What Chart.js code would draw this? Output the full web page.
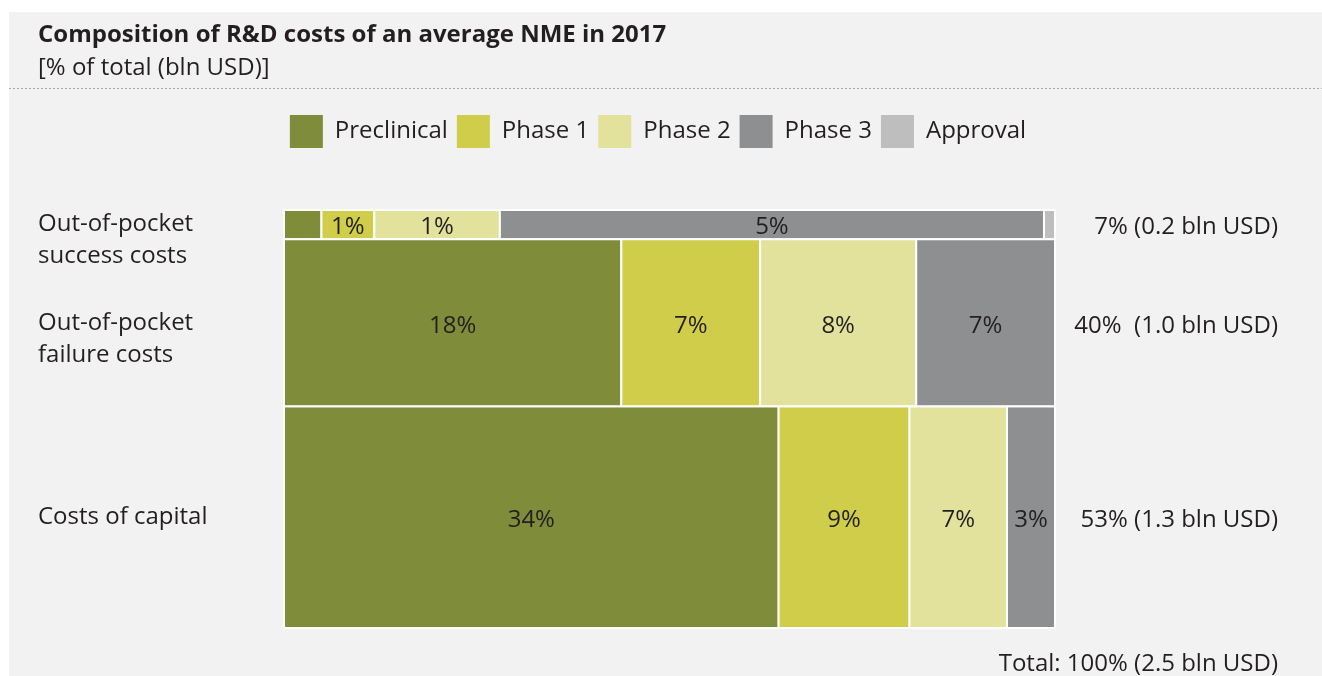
<!DOCTYPE html>
<html>
<head>
<meta charset="utf-8">
<title>Composition of R&amp;D costs</title>
<script src="https://cdn.jsdelivr.net/npm/chart.js@4.4.0/dist/chart.umd.min.js"></script>
<style>
  html, body { margin: 0; padding: 0; background: #fff; }
</style>
</head>
<body>
<canvas id="chart" width="1322" height="676"></canvas>
<script>
var FONT = "'Open Sans', 'Noto Sans', sans-serif";
var TEXT = '#231f20';

var rowNames = [['Out-of-pocket', 'success costs'], ['Out-of-pocket', 'failure costs'], 'Costs of capital'];
var rowTotalLabels = ['7% (0.2 bln USD)', '40%  (1.0 bln USD)', '53% (1.3 bln USD)'];
var totalLabel = 'Total: 100% (2.5 bln USD)';

var phases = ['Preclinical', 'Phase 1', 'Phase 2', 'Phase 3', 'Approval'];
var phaseColors = ['#7f8c3a', '#cfcd4a', '#e2e29c', '#8e8f91', '#bebebe'];

// % of total cost, one value per row (success, failure, capital)
var preclinical = [0.34, 17.5, 34.0];
var phase1 = [0.48, 7.2, 9.0];
var phase2 = [1.14, 8.1, 6.7];
var phase3 = [4.94, 7.2, 3.3];
var approval = [0.10, 0, 0];

// printed labels inside the cells
var preclinicalLabels = ['', '18%', '34%'];
var phase1Labels = ['1%', '7%', '9%'];
var phase2Labels = ['1%', '8%', '7%'];
var phase3Labels = ['5%', '7%', '3%'];
var approvalLabels = ['', '', ''];

var series = [preclinical, phase1, phase2, phase3, approval];
var seriesLabels = [preclinicalLabels, phase1Labels, phase2Labels, phase3Labels, approvalLabels];

// row sizes and positions on the 0..100 scale
var rowSums = rowNames.map(function (r, i) {
  return series.reduce(function (s, d) { return s + d[i]; }, 0);
});
var rowStarts = [];
var acc = 0;
rowSums.forEach(function (s) { rowStarts.push(acc); acc += s; });
var grandTotal = acc;
var rowCenters = rowSums.map(function (s, i) { return rowStarts[i] + s / 2; });

var mekko = {
  id: 'mekko',
  beforeDraw: function (chart) {
    var c = chart.ctx;
    c.save();
    c.fillStyle = '#ffffff';
    c.fillRect(0, 0, chart.width, chart.height);
    c.fillStyle = '#f2f2f2';
    c.fillRect(9, 12, chart.width - 9, chart.height - 12);
    c.strokeStyle = '#a8a8a8';
    c.lineWidth = 1;
    c.setLineDash([2, 2]);
    c.beginPath();
    c.moveTo(9, 88.5);
    c.lineTo(chart.width, 88.5);
    c.stroke();
    c.restore();
  },
  beforeDatasetsDraw: function (chart) {
    var c = chart.ctx;
    var xs = chart.scales.x, ys = chart.scales.y;
    c.save();
    rowSums.forEach(function (sum, r) {
      var y0 = ys.getPixelForValue(rowStarts[r]);
      var y1 = ys.getPixelForValue(rowStarts[r] + sum);
      var cum = 0;
      chart.data.datasets.forEach(function (ds, k) {
        var v = ds.data[r];
        if (!v) return;
        var x0 = xs.getPixelForValue(cum / sum * 100);
        cum += v;
        var x1 = xs.getPixelForValue(cum / sum * 100);
        c.fillStyle = ds.backgroundColor;
        c.fillRect(x0, y0, x1 - x0, y1 - y0);
        c.strokeStyle = '#ffffff';
        c.lineWidth = 2;
        c.strokeRect(x0, y0, x1 - x0, y1 - y0);
        var lab = seriesLabels[k][r];
        if (lab) {
          c.fillStyle = TEXT;
          c.font = '24px ' + FONT;
          c.textAlign = 'center';
          c.textBaseline = 'middle';
          c.fillText(lab, (x0 + x1) / 2, (y0 + y1) / 2 + 3);
        }
      });
    });
    c.restore();
    return false;
  },
  afterDraw: function (chart) {
    var c = chart.ctx;
    c.save();
    c.fillStyle = TEXT;
    c.font = '24px ' + FONT;
    c.textAlign = 'right';
    c.textBaseline = 'middle';
    c.fillText(totalLabel, chart.scales.y2.right, chart.chartArea.bottom + 36);
    c.restore();
  }
};

function rowTicks(s) {
  s.ticks = rowCenters.map(function (v) { return { value: v }; });
}

var ctx = document.getElementById('chart').getContext('2d');
var chart = new Chart(ctx, {
  type: 'bar',
  data: {
    labels: rowNames,
    datasets: phases.map(function (p, k) {
      return {
        label: p,
        data: series[k],
        backgroundColor: phaseColors[k],
        borderWidth: 0
      };
    })
  },
  options: {
    responsive: false,
    animation: false,
    layout: { padding: { top: 12, left: 38, right: 44, bottom: 48 } },
    plugins: {
      tooltip: { enabled: false },
      title: {
        display: true,
        text: 'Composition of R&D costs of an average NME in 2017',
        align: 'start',
        color: TEXT,
        font: { family: FONT, size: 24, weight: 'bold', lineHeight: 1.2 },
        padding: { top: 8.6, bottom: 0 }
      },
      subtitle: {
        display: true,
        text: '[% of total (bln USD)]',
        align: 'start',
        color: TEXT,
        font: { family: FONT, size: 24, lineHeight: 1.2 },
        padding: { top: 4.2, bottom: 23.6 }
      },
      legend: {
        position: 'top',
        labels: {
          boxWidth: 33,
          boxHeight: 33,
          padding: 9,
          color: TEXT,
          font: { family: FONT, size: 24 }
        }
      }
    },
    scales: {
      x: {
        type: 'linear',
        position: 'top',
        offset: false,
        min: 0,
        max: 100,
        grid: { display: false, offset: false },
        border: { display: false },
        ticks: { display: false },
        afterFit: function (s) {
          s.height = 52;
          s.paddingLeft = 0;
          s.paddingRight = 0;
        }
      },
      y: {
        type: 'linear',
        position: 'left',
        reverse: true,
        min: 0,
        max: grandTotal,
        grid: { display: false },
        border: { display: false },
        afterBuildTicks: rowTicks,
        ticks: {
          autoSkip: false,
          crossAlign: 'far',
          color: TEXT,
          font: { family: FONT, size: 24, lineHeight: 1.33 },
          callback: function (v, i) {
            var n = rowNames[i];
            // first line sits on the row centre
            return Array.isArray(n) ? [''].concat(n) : n;
          }
        },
        afterFit: function (s) {
          s.width = 246;
          s.paddingTop = 0;
          s.paddingBottom = 0;
        }
      },
      y2: {
        type: 'linear',
        position: 'right',
        reverse: true,
        min: 0,
        max: grandTotal,
        grid: { display: false },
        border: { display: false },
        afterBuildTicks: rowTicks,
        ticks: {
          autoSkip: false,
          crossAlign: 'far',
          labelOffset: 3,
          color: TEXT,
          font: { family: FONT, size: 24 },
          callback: function (v, i) { return rowTotalLabels[i]; }
        },
        afterFit: function (s) {
          s.width = 223;
          s.paddingTop = 0;
          s.paddingBottom = 0;
        }
      }
    }
  },
  plugins: [mekko]
});
</script>
</body>
</html>
